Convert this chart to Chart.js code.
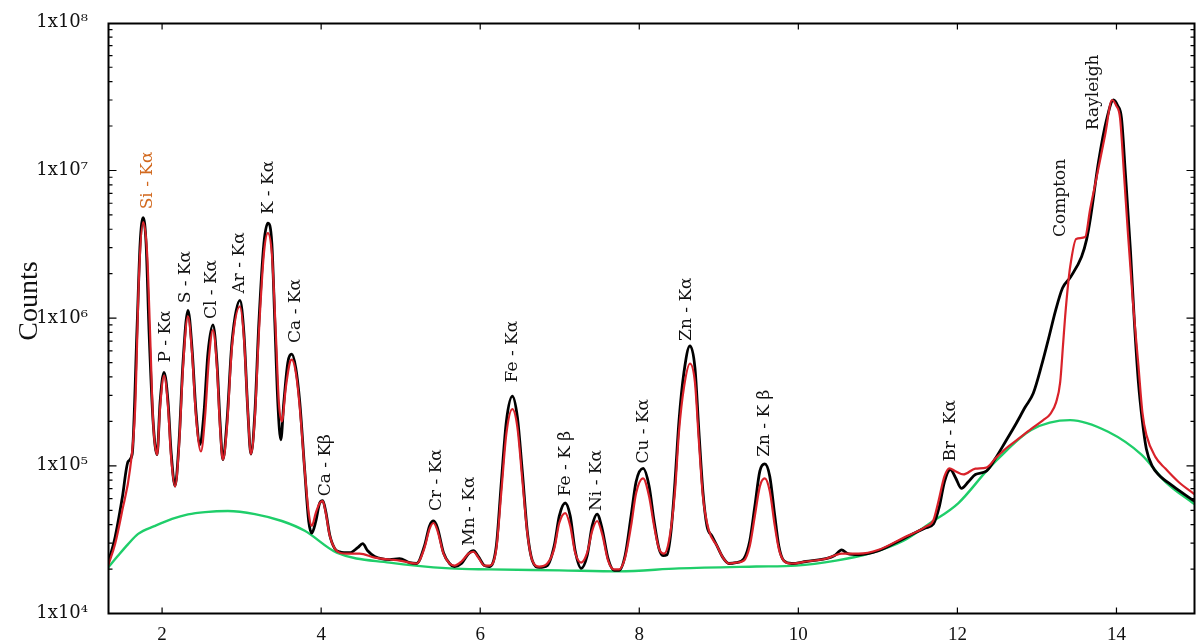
<!DOCTYPE html>
<html>
<head>
<meta charset="utf-8">
<title>Espectro XRF</title>
<script src="https://cdn.jsdelivr.net/npm/chart.js@4.4.0/dist/chart.umd.min.js"></script>
<style>
    html, body { margin: 0; padding: 0; background: #fff; }
    #contenedor { width: 1196px; height: 642px; }
</style>
</head>
<body>
<div id="contenedor"><canvas id="graficoEspectro" width="1196" height="642"></canvas></div>
<script>
// Espectro medido (curva negra): energía en keV y cuentas
const medidoKeV = [1.322,1.410,1.498,1.573,1.624,1.686,1.724,1.762,1.799,1.837,1.887,1.937,1.975,2.025,2.075,2.113,2.163,2.213,2.263,2.326,2.376,2.427,2.477,2.527,2.577,2.640,2.690,2.728,2.765,2.816,2.878,2.979,3.029,3.079,3.117,3.167,3.217,3.280,3.330,3.380,3.418,3.455,3.493,3.531,3.581,3.631,3.681,3.731,3.794,3.844,3.882,3.932,3.982,4.020,4.058,4.108,4.171,4.233,4.359,4.459,4.522,4.585,4.673,4.861,4.986,5.112,5.200,5.300,5.363,5.413,5.463,5.538,5.614,5.676,5.764,5.852,5.915,5.977,6.053,6.115,6.203,6.266,6.329,6.404,6.467,6.529,6.592,6.655,6.743,6.843,6.931,6.994,7.069,7.132,7.194,7.270,7.345,7.408,7.470,7.533,7.608,7.684,7.746,7.822,7.897,7.960,8.048,8.123,8.186,8.248,8.299,8.349,8.399,8.449,8.499,8.562,8.637,8.700,8.750,8.800,8.851,8.913,8.976,9.052,9.127,9.215,9.315,9.390,9.453,9.516,9.578,9.641,9.704,9.754,9.817,9.917,10.098,10.344,10.457,10.544,10.620,10.758,11.009,11.322,11.598,11.699,11.774,11.837,11.912,11.975,12.050,12.138,12.226,12.364,12.477,12.602,12.728,12.853,12.954,13.059,13.147,13.235,13.322,13.423,13.561,13.624,13.674,13.774,13.875,13.962,14.013,14.063,14.113,14.176,14.226,14.276,14.326,14.376,14.452,14.527,14.715,14.979];
const medidoCuentas = [2.2e4,3.3e4,6.0e4,1.07e5,1.2e5,8.8e5,3.2e6,4.8e6,3.2e6,7.9e5,2.0e5,1.19e5,2.7e5,4.3e5,2.7e5,1.25e5,7.3e4,1.45e5,5.0e5,1.13e6,6.3e5,2.3e5,1.39e5,2.3e5,5.8e5,9.0e5,5.0e5,2.0e5,1.1e5,2.0e5,6.8e5,1.32e6,7.9e5,2.3e5,1.2e5,2.3e5,9.3e5,3.2e6,4.4e6,3.2e6,9.3e5,2.7e5,1.5e5,2.7e5,5.0e5,5.7e5,4.6e5,2.7e5,9.2e4,4.2e4,3.5e4,4.2e4,5.6e4,5.8e4,4.9e4,3.4e4,2.75e4,2.62e4,2.58e4,2.79e4,2.97e4,2.66e4,2.43e4,2.32e4,2.35e4,2.21e4,2.18e4,2.88e4,3.92e4,4.23e4,3.8e4,2.58e4,2.18e4,2.08e4,2.18e4,2.54e4,2.66e4,2.43e4,2.11e4,2.08e4,2.88e4,7.8e4,2.0e5,2.96e5,2.14e5,9.2e4,3.6e4,2.28e4,2.05e4,2.11e4,2.88e4,4.57e4,5.6e4,4.57e4,2.66e4,2.02e4,2.47e4,3.92e4,4.71e4,3.74e4,2.35e4,1.96e4,1.96e4,2.47e4,4.57e4,7.8e4,9.6e4,7.3e4,4.23e4,2.75e4,2.47e4,2.5e4,3.6e4,7.8e4,2.0e5,4.3e5,6.5e5,4.6e5,1.7e5,6.7e4,3.92e4,3.36e4,2.88e4,2.39e4,2.18e4,2.21e4,2.35e4,3.11e4,5.33e4,9.2e4,1.03e5,8.47e4,4.57e4,2.88e4,2.28e4,2.18e4,2.25e4,2.35e4,2.47e4,2.7e4,2.54e4,2.5e4,2.66e4,3.21e4,3.8e4,4.04e4,5.33e4,7.8e4,9.44e4,8.34e4,7.04e4,7.8e4,8.74e4,9.2e4,1.12e5,1.45e5,1.89e5,2.5e5,3.1e5,4.8e5,7.3e5,1.13e6,1.6e6,1.9e6,2.6e6,3.4e6,4.8e6,1.14e7,2.2e7,3.0e7,2.76e7,2.26e7,9.37e6,2.86e6,9.26e5,3.67e5,2.0e5,1.3e5,9.9e4,8.74e4,7.26e4,5.76e4];

// Ajuste (curva roja)
const ajusteKeV = [1.322,1.410,1.498,1.598,1.661,1.711,1.762,1.812,1.849,1.887,1.937,1.975,2.025,2.075,2.113,2.163,2.213,2.263,2.326,2.376,2.427,2.489,2.540,2.590,2.640,2.690,2.728,2.765,2.816,2.878,2.979,3.029,3.079,3.117,3.167,3.217,3.280,3.330,3.380,3.430,3.468,3.506,3.556,3.606,3.631,3.681,3.731,3.794,3.844,3.882,3.932,3.982,4.020,4.058,4.108,4.171,4.233,4.359,4.484,4.673,4.861,4.986,5.200,5.300,5.363,5.413,5.463,5.538,5.614,5.676,5.764,5.852,5.915,5.977,6.053,6.115,6.203,6.266,6.329,6.404,6.467,6.529,6.592,6.655,6.743,6.843,6.931,6.994,7.069,7.132,7.194,7.270,7.345,7.408,7.470,7.533,7.608,7.684,7.746,7.822,7.897,7.960,8.048,8.123,8.186,8.248,8.311,8.374,8.449,8.499,8.562,8.637,8.700,8.750,8.800,8.876,8.976,9.052,9.127,9.215,9.315,9.390,9.453,9.516,9.578,9.641,9.704,9.754,9.817,9.917,10.098,10.344,10.457,10.544,10.620,10.758,11.009,11.322,11.598,11.699,11.762,11.837,11.900,11.975,12.075,12.226,12.364,12.477,12.602,12.765,12.928,13.079,13.167,13.242,13.292,13.330,13.355,13.393,13.418,13.493,13.606,13.669,13.732,13.857,13.945,13.995,14.045,14.095,14.145,14.208,14.276,14.326,14.376,14.489,14.615,14.778,14.979];
const ajusteCuentas = [2.11e4,2.97e4,4.94e4,9.58e4,2.42e5,2.0e6,4.47e6,2.73e6,7.93e5,2.0e5,1.19e5,2.49e5,4.09e5,2.49e5,1.15e5,7.26e4,1.35e5,4.62e5,1.03e6,5.83e5,2.14e5,1.25e5,2.14e5,5.4e5,8.31e5,4.62e5,1.83e5,1.1e5,1.83e5,6.3e5,1.2e6,7.35e5,2.3e5,1.2e5,2.14e5,7.93e5,2.73e6,3.77e6,2.73e6,7.93e5,2.7e5,2.0e5,3.4e5,5.0e5,5.23e5,4.3e5,2.49e5,9.2e4,4.79e4,3.92e4,4.79e4,5.6e4,5.76e4,4.79e4,3.36e4,2.75e4,2.58e4,2.54e4,2.54e4,2.39e4,2.32e4,2.28e4,2.18e4,2.79e4,3.74e4,4.1e4,3.63e4,2.54e4,2.18e4,2.11e4,2.25e4,2.54e4,2.62e4,2.39e4,2.11e4,2.11e4,2.75e4,6.72e4,1.65e5,2.42e5,1.83e5,8.09e4,3.52e4,2.28e4,2.08e4,2.18e4,2.75e4,4.1e4,4.79e4,3.92e4,2.58e4,2.21e4,2.58e4,3.63e4,4.23e4,3.46e4,2.28e4,1.99e4,1.99e4,2.39e4,3.92e4,6.52e4,8.21e4,6.22e4,3.92e4,2.75e4,2.54e4,3.11e4,6.72e4,1.7e5,3.4e5,4.92e5,3.67e5,1.45e5,6.22e4,3.63e4,2.88e4,2.39e4,2.18e4,2.21e4,2.28e4,2.88e4,4.57e4,7.26e4,8.21e4,6.72e4,3.92e4,2.75e4,2.28e4,2.18e4,2.25e4,2.35e4,2.47e4,2.54e4,2.54e4,2.54e4,2.7e4,3.26e4,3.86e4,4.3e4,5.76e4,8.47e4,9.6e4,9.2e4,8.74e4,9.58e4,9.73e4,1.12e5,1.3e5,1.52e5,1.78e5,2.04e5,2.24e5,2.7e5,3.67e5,6.8e5,1.03e6,1.72e6,2.23e6,3.44e6,3.54e6,5.46e6,8.03e6,1.74e7,3.0e7,2.76e7,2.26e7,9.37e6,3.71e6,1.26e6,4.77e5,2.3e5,1.62e5,1.15e5,9.58e4,7.8e4,6.42e4];

// Fondo (curva verde)
const fondoKeV = [1.322,1.448,1.573,1.699,1.912,2.125,2.326,2.540,2.828,3.167,3.506,3.794,4.196,4.861,5.619,6.115,6.994,7.746,8.499,9.470,9.972,10.474,10.888,11.322,11.641,12.013,12.364,12.514,12.928,13.418,13.895,14.314,14.615,14.979];
const fondoCuentas = [2.05e4,2.47e4,2.95e4,3.46e4,3.92e4,4.37e4,4.69e4,4.86e4,4.94e4,4.71e4,4.23e4,3.63e4,2.58e4,2.21e4,2.02e4,1.99e4,1.96e4,1.93e4,2.02e4,2.08e4,2.11e4,2.28e4,2.54e4,3.11e4,4.04e4,5.6e4,9.2e4,1.12e5,1.75e5,2.04e5,1.7e5,1.19e5,7.8e4,5.5e4];

// Ticks de los ejes
const ticksX = [2, 4, 6, 8, 10, 12, 14];
const ticksY = [1e4, 1e5, 1e6, 1e7, 1e8];
const etiquetasY = ["1x10\u2074", "1x10\u2075", "1x10\u2076", "1x10\u2077", "1x10\u2078"];

// Etiquetas de los picos (nombre, energía, cuentas donde empieza el texto)
const picosNombre = ["Si - K\u03b1", "P - K\u03b1", "S - K\u03b1", "Cl - K\u03b1", "Ar - K\u03b1", "K - K\u03b1", "Ca - K\u03b1", "Ca - K\u03b2", "Cr - K\u03b1", "Mn - K\u03b1", "Fe - K\u03b1", "Fe - K \u03b2", "Ni - K\u03b1", "Cu - K\u03b1", "Zn - K\u03b1", "Zn - K \u03b2", "Br - K\u03b1", "Compton", "Rayleigh"];
const picosKeV = [1.812, 2.038, 2.301, 2.627, 2.979, 3.343, 3.681, 4.058, 5.450, 5.870, 6.404, 7.069, 7.463, 8.048, 8.592, 9.571, 11.912, 13.292, 13.706];
const picosCuentas = [5.46e6, 5.0e5, 1.26e6, 9.85e5, 1.47e6, 5.05e6, 6.8e5, 6.22e4, 4.94e4, 2.88e4, 3.67e5, 6.22e4, 4.94e4, 1.035e5, 7.01e5, 1.15e5, 1.07e5, 3.54e6, 1.875e7];

const aPuntos = (xs, ys) => xs.map((x, i) => ({ x, y: ys[i] }));

// Plugin: marco con ticks hacia dentro, etiquetas de picos y título del eje Y
const marcoEspectro = {
    id: "marcoEspectro",
    afterDraw(chart) {
        const ctx = chart.ctx;
        const a = chart.chartArea;
        const sx = chart.scales.x, sy = chart.scales.y;
        ctx.save();

        // Etiquetas de los picos, giradas 90°
        ctx.font = "17px 'DejaVu Serif'";
        ctx.textAlign = "left";
        ctx.textBaseline = "middle";
        picosNombre.forEach((nombre, i) => {
            const px = sx.getPixelForValue(picosKeV[i]);
            const py = sy.getPixelForValue(picosCuentas[i]);
            ctx.save();
            ctx.translate(px, py);
            ctx.rotate(-Math.PI / 2);
            ctx.fillStyle = i === 0 ? "#d2691e" : "#111111";
            ctx.fillText(nombre, 0, 0);
            ctx.restore();
        });

        // Marco
        const izq = Math.round(a.left) + 0.5;
        const der = Math.round(a.right) - 1.5;
        const arr = Math.round(a.top) + 0.5;
        const aba = Math.round(a.bottom) - 0.5;
        ctx.strokeStyle = "#000000";
        ctx.lineWidth = 2;
        ctx.setLineDash([]);
        ctx.beginPath();
        ctx.moveTo(izq, arr);
        ctx.lineTo(der, arr);
        ctx.lineTo(der, aba);
        ctx.lineTo(izq, aba);
        ctx.closePath();
        ctx.stroke();

        // Ticks del eje Y (mayores y menores), en ambos lados
        ctx.lineWidth = 1.2;
        ctx.beginPath();
        for (let e = 4; e < 8; e++) {
            for (let k = 1; k <= 9; k++) {
                const py = sy.getPixelForValue(k * Math.pow(10, e));
                const largo = k === 1 ? 8 : 4;
                ctx.moveTo(izq, py); ctx.lineTo(izq + largo, py);
                ctx.moveTo(der, py); ctx.lineTo(der - largo, py);
            }
        }
        // Ticks del eje X, abajo y arriba
        ticksX.forEach(v => {
            const px = sx.getPixelForValue(v);
            ctx.moveTo(px, aba); ctx.lineTo(px, aba - 6);
            ctx.moveTo(px, arr); ctx.lineTo(px, arr + 6);
        });
        ctx.stroke();

        // Título del eje Y
        ctx.translate(30, 301);
        ctx.rotate(-Math.PI / 2);
        ctx.font = "28px 'Liberation Serif'";
        ctx.textAlign = "center";
        ctx.fillStyle = "#111111";
        ctx.fillText("Counts", 0, 0);

        ctx.restore();
    }
};

document.addEventListener("DOMContentLoaded", () => {
    new Chart(document.getElementById("graficoEspectro"), {
        type: "line",
        data: {
            datasets: [
                { label: "Ajuste", data: aPuntos(ajusteKeV, ajusteCuentas), borderColor: "#d9222a", borderWidth: 2.2, order: 0 },
                { label: "Medido", data: aPuntos(medidoKeV, medidoCuentas), borderColor: "#000000", borderWidth: 2.8, order: 1 },
                { label: "Fondo", data: aPuntos(fondoKeV, fondoCuentas), borderColor: "#1fce6a", borderWidth: 2.4, order: 2 }
            ]
        },
        options: {
            responsive: false,
            animation: false,
            elements: {
                point: { radius: 0 },
                line: { cubicInterpolationMode: "monotone", fill: false }
            },
            layout: { padding: { top: 16, right: 0, left: 0, bottom: 0 } },
            plugins: {
                legend: { display: false },
                tooltip: { enabled: false }
            },
            scales: {
                x: {
                    type: "linear",
                    min: 1.32,
                    max: 15,
                    grid: { display: false },
                    border: { display: false },
                    afterBuildTicks: s => { s.ticks = ticksX.map(v => ({ value: v })); },
                    afterFit: s => { s.height = 28.5; },
                    ticks: {
                        color: "#111",
                        padding: 2,
                        maxRotation: 0,
                        font: { family: "'Liberation Serif'", size: 19 }
                    }
                },
                y: {
                    type: "logarithmic",
                    min: 1e4,
                    max: 1e8,
                    grid: { display: false },
                    border: { display: false },
                    afterBuildTicks: s => { s.ticks = ticksY.map(v => ({ value: v })); },
                    afterFit: s => { s.width = 108; },
                    ticks: {
                        color: "#111",
                        padding: 12,
                        font: { family: "'DejaVu Serif'", size: 18 },
                        callback: (v, i) => etiquetasY[i]
                    }
                }
            }
        },
        plugins: [marcoEspectro]
    });
});
</script>
</body>
</html>
